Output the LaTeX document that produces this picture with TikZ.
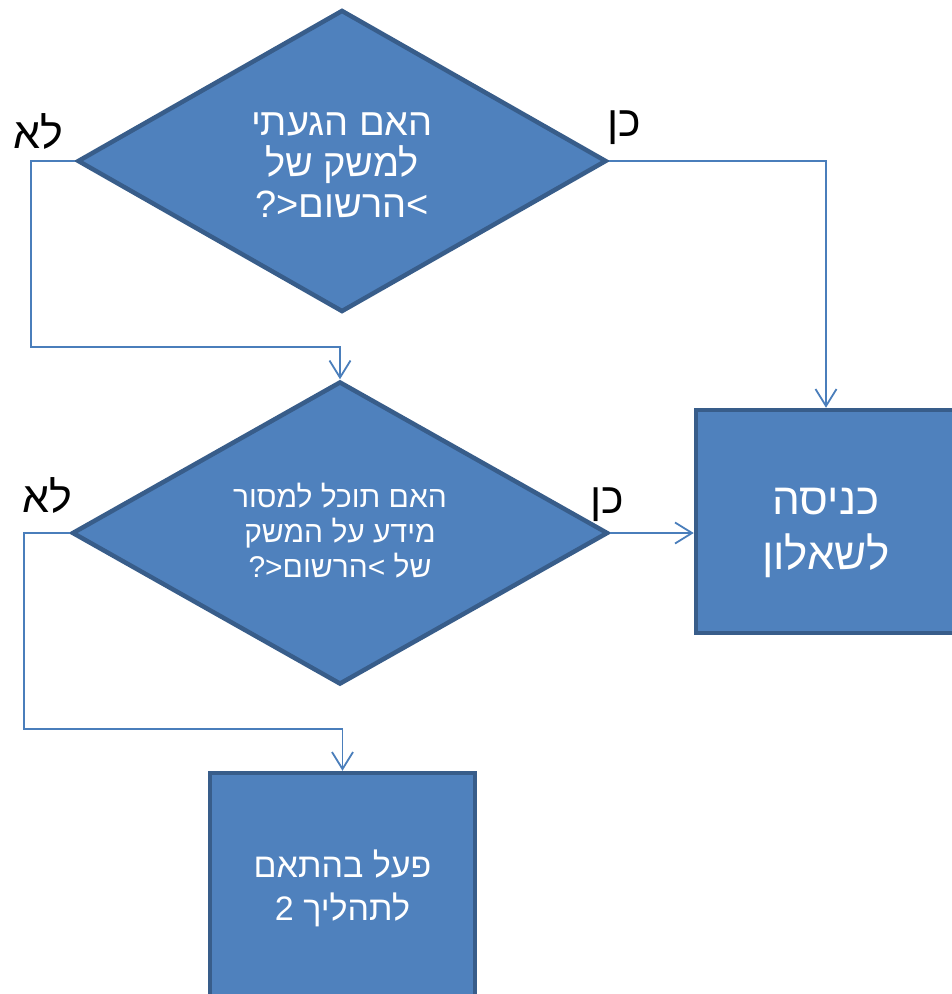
\documentclass[tikz,border=0pt]{standalone}
\usepackage{fontspec}
\setmainfont{Liberation Sans}
\newfontfamily\hebfont[Script=Hebrew]{Liberation Sans}
\usetikzlibrary{shapes.geometric,arrows.meta}
\TeXXeTstate=1
\newcommand{\heb}[1]{\beginR#1\endR}
\definecolor{blockfill}{HTML}{4F81BD}
\definecolor{blockline}{HTML}{385D8A}
\definecolor{flowline}{HTML}{4A7EBB}
\tikzset{%
  block/.style    = {draw=blockline, fill=blockfill, line width=4.5pt,%
                     text=white, align=center, inner sep=0pt, text depth=0pt},%
  decision/.style = {block, shape=diamond, aspect=1.75},%
  process/.style  = {block, shape=rectangle},%
  flow/.style     = {draw=flowline, line width=1.8pt,%
                     -{Straight Barb[length=17pt,width=21pt,line width=1.8pt]}},%
  answer/.style   = {font=\hebfont\fontsize{43}{48}\selectfont}%
}

\begin{document}
\begin{tikzpicture}[x=1pt,y=-1pt]
	\clip (0,0) rectangle (952,994);
	% the two questions
	\node[decision, minimum width=529pt, minimum height=302pt, text height=112pt,
		font=\hebfont\fontsize{38}{41}\selectfont] (reached) at (342,161)
		{\heb{האם הגעתי}\\\heb{למשק של}\\\heb{>הרשום<?}};
	\node[decision, minimum width=536pt, minimum height=303pt, text height=88pt,
		font=\hebfont\fontsize{30}{35}\selectfont] (share) at (340,533)
		{\heb{האם תוכל למסור}\\\heb{מידע על המשק}\\\heb{של >הרשום<?}};
	% where they lead
	\node[process, minimum width=260pt, minimum height=223pt, text height=95pt,
		font=\hebfont\fontsize{44}{55}\selectfont] (survey) at (826,521.5)
		{\heb{כניסה}\\\heb{לשאלון}};
	\node[process, minimum width=265pt, minimum height=232pt, text height=62pt,
		font=\hebfont\fontsize{34}{43}\selectfont] (process2) at (342.5,889)
		{\heb{פעל בהתאם}\\\heb{לתהליך 2}};
	% bends of the "no" lines
	\coordinate (noReached) at (31,347);
	\coordinate (noShare) at (24,729);
	\draw[flow] (reached.east) -| (survey.north);
	\draw[flow] (reached.west) -| (noReached) -| (share.north);
	\draw[flow] (share.east) -- (share.east -| survey.west);
	\draw[flow] (share.west) -| (noShare) -| (process2.north);
	% answers
	\node[answer] (noA) at (38,131) {\heb{לא}};
	\node[answer] (yesA) at (624,128) {\heb{כן}};
	\node[answer] (noB) at (47,495) {\heb{לא}};
	\node[answer] (yesB) at (607,505) {\heb{כן}};
\end{tikzpicture}
\end{document}
